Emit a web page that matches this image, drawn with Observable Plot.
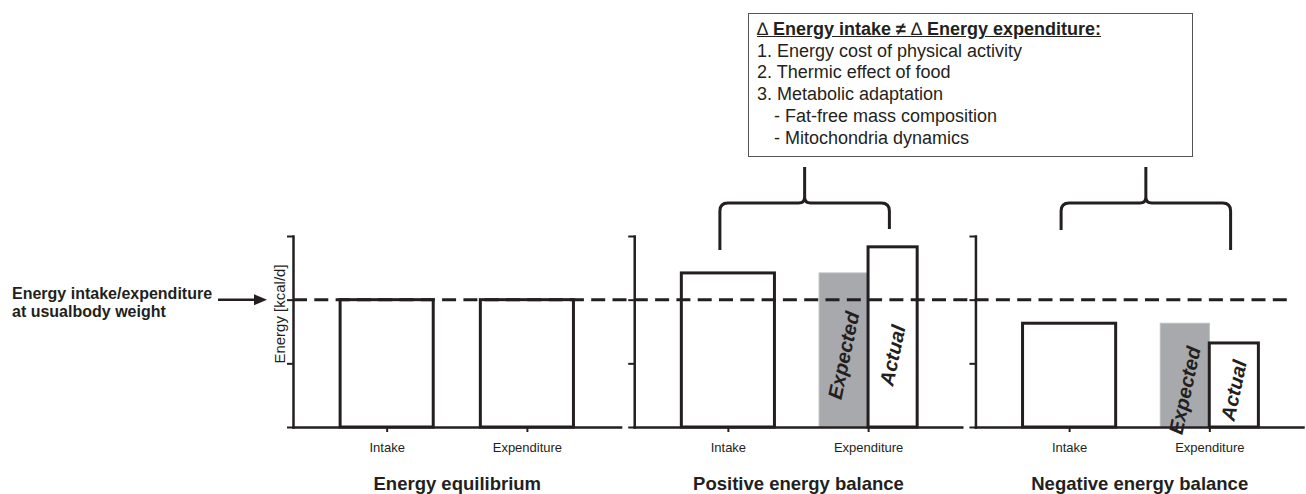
<!DOCTYPE html>
<html>
<head>
<meta charset="utf-8">
<script src="https://cdn.jsdelivr.net/npm/d3@7"></script>
<script src="https://cdn.jsdelivr.net/npm/@observablehq/plot@0.6"></script>
<style>
  html, body { margin: 0; padding: 0; background: #fff; }
  #wrap { position: relative; width: 1306px; height: 494px; font-family: "Liberation Sans", Arial, sans-serif; color: #231f20; }
  #box { position: absolute; left: 748px; top: 13px; width: 443px; height: 142px; border: 1px solid #555; box-sizing: content-box;
         font-size: 18px; line-height: 21.7px; padding: 0; }
  #box .inner { position: absolute; left: 8px; top: 5px; white-space: nowrap; }
  #box .hd { font-weight: bold; text-decoration: underline; }
  #box .hd .d { font-weight: normal; }
  #box .sub { padding-left: 17px; }
</style>
</head>
<body>
<div id="wrap">
  <div id="chart"></div>
  <div id="box"><div class="inner">
    <div class="hd"><span class="d">∆</span> Energy intake ≠ <span class="d">∆</span> Energy expenditure:</div>
    <div>1. Energy cost of physical activity</div>
    <div>2. Thermic effect of food</div>
    <div>3. Metabolic adaptation</div>
    <div class="sub">- Fat-free mass composition</div>
    <div class="sub">- Mitochondria dynamics</div>
  </div></div>
</div>
<script>
// ---- data ----
const panels = ["Energy equilibrium", "Positive energy balance", "Negative energy balance"];
const categories = ["Intake", "Expenditure"];
const intake = [2, 2.42, 1.63];
const expectedExpenditure = [2, 2.42, 1.63];
const actualExpenditure = [2, 2.83, 1.32];
const usualLevel = 2;
const yTicks = [0, 1, 2, 3];
const leftNote = ["Energy intake/expenditure", "at usualbody weight"];
const yLabel = "Energy [kcal/d]";

// ---- tables ----
const intakeRows = panels.map((p, i) => ({panel: p, cat: categories[0], v: intake[i]}));
const fullExpRows = panels.map((p, i) => ({panel: p, cat: categories[1], v: actualExpenditure[i]}))
  .filter((d, i) => expectedExpenditure[i] === actualExpenditure[i]);
const splitRows = panels.map((p, i) => ({panel: p, cat: categories[1], expected: expectedExpenditure[i], actual: actualExpenditure[i]}))
  .filter(d => d.expected !== d.actual);

const ink = "#231f20";
const half = 46.5;   // half of the bar band, in px
const grow = 2.5;

const plot = Plot.plot({
  width: 1306, height: 494,
  marginLeft: 293, marginRight: 3, marginTop: 236, marginBottom: 67,
  style: {fontFamily: "'Liberation Sans', Arial, sans-serif", fontSize: "13px", color: ink, background: "transparent"},
  fx: {domain: panels, padding: 0.04, round: false, label: null},
  x: {domain: categories, padding: 0.336, round: false, label: null},
  y: {domain: [0, 3], label: null},
  marks: [
    Plot.barY(intakeRows, {fx: "panel", x: "cat", y: "v", fill: "white", stroke: ink, strokeWidth: 3}),
    Plot.barY(fullExpRows, {fx: "panel", x: "cat", y: "v", fill: "white", stroke: ink, strokeWidth: 3}),
    Plot.barY(splitRows, {fx: "panel", x: "cat", y: "expected", fill: "#a7a9ac", stroke: "#bcbec0", strokeWidth: 1, insetRight: half, insetLeft: -grow}),
    Plot.barY(splitRows, {fx: "panel", x: "cat", y: "actual", fill: "white", stroke: ink, strokeWidth: 3, insetLeft: half, insetRight: -grow}),
    Plot.text(splitRows, {fx: "panel", x: "cat", y: d => Math.min(d.expected, d.actual) / 2, text: () => "Expected",
      rotate: -78, dx: -(half + grow) / 2, dy: 5, fontSize: 20, fontWeight: "bold", fontStyle: "italic", fill: ink}),
    Plot.text(splitRows, {fx: "panel", x: "cat", y: d => Math.min(d.expected, d.actual) / 2, text: () => "Actual",
      rotate: -78, dx: (half + grow) / 2, dy: 5, fontSize: 20, fontWeight: "bold", fontStyle: "italic", fill: ink}),
    Plot.frame({anchor: "left", stroke: ink, strokeWidth: 2.5}),
    Plot.frame({anchor: "bottom", stroke: ink, strokeWidth: 2.5}),
    Plot.axisY(yTicks, {tickFormat: () => "", tickSize: 6, strokeWidth: 2, stroke: ink, facetAnchor: null, label: null}),
    Plot.axisX({tickSize: 5, tickPadding: 10, strokeWidth: 2, stroke: ink, fontSize: 13, label: null}),
    Plot.axisFx({anchor: "bottom", tickSize: 0, tickPadding: 49, fontSize: 18.5, fontWeight: "bold", label: null})
  ]
});
document.getElementById("chart").appendChild(plot);

// ---- annotations, positioned through the plot's scales ----
const ys = plot.scale("y"), xs = plot.scale("x"), fxs = plot.scale("fx");
const svg = d3.select(plot);
const yU = ys.apply(usualLevel);
const fxW = fxs.bandwidth, B = xs.bandwidth, xOff = xs.range[0];
const absX = (panel, cat) => fxs.apply(panel) + xs.apply(cat) - xOff;
const g = svg.append("g").attr("fill", "none").attr("stroke", ink);

// dashed reference line across all panels
g.append("line")
  .attr("x1", fxs.apply(panels[0])).attr("x2", fxs.apply(panels[2]) + fxW - 10)
  .attr("y1", yU).attr("y2", yU)
  .attr("stroke-width", 3).attr("stroke-dasharray", "14,7.3");

// arrow from the left note
g.append("line").attr("x1", 218).attr("x2", 255).attr("y1", yU).attr("y2", yU).attr("stroke-width", 2.5);
svg.append("path").attr("fill", ink)
  .attr("d", `M254,${yU - 5.5} L267,${yU} L254,${yU + 5.5} Z`);

// left note text
const note = svg.append("text").attr("font-size", 16).attr("font-weight", "bold").attr("fill", ink)
  .attr("text-anchor", "start")
  .attr("font-family", "'Liberation Sans', Arial, sans-serif");
leftNote.forEach((t, i) => note.append("tspan").attr("x", 12).attr("y", yU - 0.5 + i * 18).text(t));

// y axis title
svg.append("text").attr("font-size", 15).attr("fill", ink).attr("text-anchor", "middle")
  .attr("font-family", "'Liberation Sans', Arial, sans-serif")
  .attr("transform", `translate(284.5,314) rotate(-90)`).text(yLabel);

// braces above the unbalanced panels
const braceDrops = [[250, 229], [230, 250]];
splitRows.forEach((d, k) => {
  const xl = absX(d.panel, categories[0]) + B / 2 - 8;
  const xr = absX(d.panel, categories[1]) + B * 0.75 - 2;
  const xm = (xl + xr) / 2, yh = 203, yt = 167, r = 8;
  const [dl, dr] = braceDrops[k];
  g.append("path").attr("stroke-width", 3).attr("stroke-linejoin", "round")
    .attr("d", `M${xl},${dl} L${xl},${yh + r} Q${xl},${yh} ${xl + r},${yh} L${xm - 6},${yh} Q${xm},${yh} ${xm},${yh - 6} L${xm},${yt}
               M${xm},${yh - 6} Q${xm},${yh} ${xm + 6},${yh} L${xr - r},${yh} Q${xr},${yh} ${xr},${yh + r} L${xr},${dr}`);
});
</script>
</body>
</html>
